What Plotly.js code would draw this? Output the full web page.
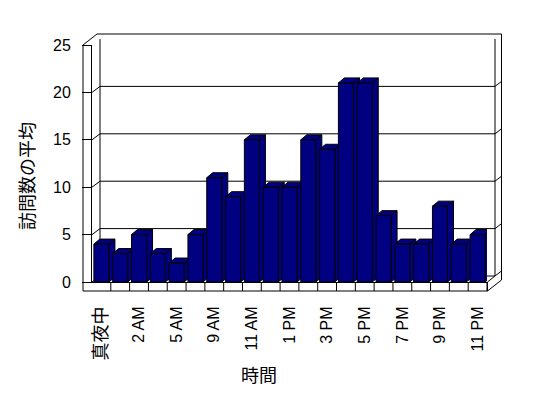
<!DOCTYPE html>
<html>
<head>
<meta charset="utf-8">
<script src="https://cdn.plot.ly/plotly-3.0.1.min.js"></script>
<style>html,body{margin:0;padding:0;background:#fff;}#chart{width:548px;height:398px;}</style>
</head>
<body>
<div id="chart"></div>
<script>
// ---- data ----
const hours = ["真夜中","1 AM","2 AM","4 AM","5 AM","8 AM","9 AM","10 AM","11 AM","12 PM","1 PM",
               "2 PM","3 PM","4 PM","5 PM","6 PM","7 PM","8 PM","9 PM","10 PM","11 PM"];
const visits = [4,3,5,3,2,5,11,9,15,10,10,15,14,21,21,7,4,4,8,4,5];
const yTicks = [0,5,10,15,20,25];
const xTickLabels = hours.filter((h, i) => i % 2 === 0);
const yTitle = "訪問数の平均";
const xTitle = "時間";

// ---- layout geometry ----
const FW = 548, FH = 398;
const M = {l: 92, r: 61, t: 45, b: 116};
const W = FW - M.l - M.r, H = FH - M.t - M.b;
const YMAX = 25;
const navy = "#000080";
const font = "Liberation Sans, Arial, Noto Sans CJK JP, sans-serif";
const isCJK = s => /[^\x00-\x7F]/.test(s);

const shapes = [];
const pix = {xref: "paper", yref: "paper", xsizemode: "pixel", ysizemode: "pixel", xanchor: 0, yanchor: 0};
// outer box (walls + floor slab)
shapes.push(Object.assign({}, pix, {type: "path", layer: "below",
  path: `M -9,-9 L -9,${H} L 5,${H + 11} L ${W + 14.5},${H + 11} L ${W + 14.5},2 L ${W + 0.5},-9 Z`,
  fillcolor: "#ffffff", line: {color: "#000", width: 1}}));
// back wall edges
shapes.push(Object.assign({}, pix, {type: "path", layer: "below",
  path: `M 8,6 L 8,${H + 6} M ${W + 8},6 L ${W + 8},${H + 6} M ${W + 0.5},-9 L ${W + 0.5},0 L ${W + 8},6`,
  line: {color: "#000", width: 1}}));
// gridlines on back wall
yTicks.forEach(v => {
  shapes.push({type: "path", layer: "below", xref: "paper", xsizemode: "pixel", xanchor: 0,
    yref: "y", ysizemode: "pixel", yanchor: v,
    path: `M 0,0 L 8,6 L ${W + 8},6 L ${W + 14.5},11`, line: {color: "#000", width: 1}});
});
// floor dividers at category boundaries
for (let i = 1; i <= hours.length; i++) {
  shapes.push({type: "line", layer: "below", xref: "x", x0: i - 0.5, x1: i - 0.5,
    yref: "paper", ysizemode: "pixel", yanchor: 0, y0: 0, y1: -9, line: {color: "#000", width: 1}});
}
// 3D tops and sides of bars
const hw = 0.4 * W / hours.length;
const dx = 6, d = 5 * YMAX / H;
hours.forEach((h, i) => {
  const v = visits[i];
  const base = {type: "path", layer: "between", xref: "x", xsizemode: "pixel", xanchor: h, yref: "y",
    fillcolor: navy, line: {color: "#000", width: 1}};
  shapes.push(Object.assign({}, base, {path: `M ${hw},0 L ${hw},${v} L ${hw + dx},${v + d} L ${hw + dx},${d} Z`}));
  shapes.push(Object.assign({}, base, {path: `M ${-hw},${v} L ${hw},${v} L ${hw + dx},${v + d} L ${-hw + dx},${v + d} Z`}));
});

const trace = {
  type: "bar", x: hours, y: visits, width: 0.8,
  marker: {color: navy, line: {color: "#000", width: 1}},
  hoverinfo: "x+y"
};

const layout = {
  width: FW, height: FH,
  margin: {l: M.l, r: M.r, t: M.t, b: M.b, pad: 0},
  paper_bgcolor: "#fff", plot_bgcolor: "rgba(0,0,0,0)",
  font: {family: font, color: "#000", size: 16},
  showlegend: false,
  xaxis: {
    type: "category", range: [-0.5, hours.length - 0.5], fixedrange: true, automargin: false,
    tickmode: "array", tickvals: xTickLabels,
    ticktext: xTickLabels.map(t => isCJK(t) ? `<span style="font-size:18px">${t}</span>` : t),
    tickangle: -90, ticks: "", ticklabelstandoff: 17,
    tickfont: {family: font, size: 16, color: "#000"},
    showline: true, linecolor: "#000", linewidth: 1, showgrid: false, zeroline: false
  },
  yaxis: {
    range: [0, YMAX], fixedrange: true, automargin: false,
    tickmode: "array", tickvals: yTicks, ticktext: yTicks.map(String),
    ticks: "outside", ticklen: 9, tickwidth: 1, tickcolor: "#000", ticklabelstandoff: 8,
    tickfont: {family: font, size: 16, color: "#000"},
    showline: true, linecolor: "#000", linewidth: 1, showgrid: false, zeroline: false
  },
  shapes: shapes,
  annotations: [
    {text: yTitle, xref: "paper", yref: "paper", x: (28 - M.l) / W, y: (M.t + H - 176) / H,
     xanchor: "center", yanchor: "middle", textangle: -90, showarrow: false,
     font: {family: font, size: 18, color: "#000"}},
    {text: xTitle, xref: "paper", yref: "paper", x: (259 - M.l) / W, y: (M.t + H - 375.5) / H,
     xanchor: "center", yanchor: "middle", showarrow: false,
     font: {family: font, size: 18, color: "#000"}}
  ]
};

Plotly.newPlot("chart", [trace], layout, {displayModeBar: false, staticPlot: true});
</script>
</body>
</html>
